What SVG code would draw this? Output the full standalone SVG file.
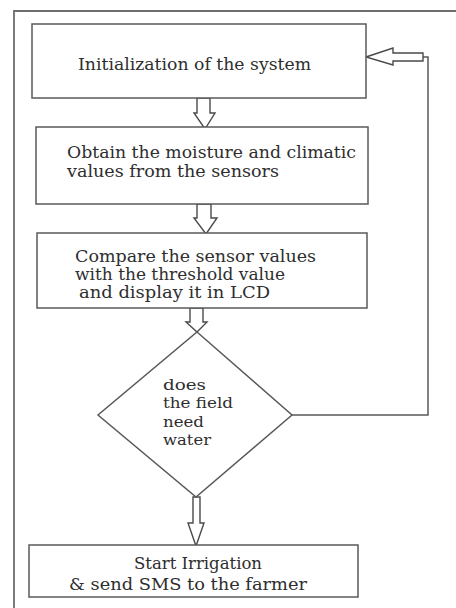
<svg xmlns="http://www.w3.org/2000/svg" width="456" height="608" viewBox="0 0 456 608">
<style>
.box{fill:#fff;stroke:#5a5a5a;stroke-width:1.5}
.frame{fill:none;stroke:#6e6e6e;stroke-width:1.8}
.arr{fill:#fff;stroke:#4a4a4a;stroke-width:1.4;stroke-linejoin:miter}
.ln{fill:none;stroke:#5a5a5a;stroke-width:1.5}
text{fill:#2e2e2e}
</style>
<rect width="456" height="608" fill="#fff"/>
<path class="frame" d="M14,608 V11 H456"/>
<g id="connectors">
<polygon class="arr" points="197,98 210,98 210,113 215,113 205,129 194,113 197,113"/>
<polygon class="arr" points="197,204 211,204 211,218 217,218 206,234 194,218 197,218"/>
<polygon class="arr" points="190,308 203,308 203,322 207,322 197,332 186,322 190,322"/>
<polygon class="arr" points="193,497 200,497 200,523 204,523 196,546 188,523 193,523"/>
<polyline class="ln" points="292,415 428,415 428,57 423,57"/>
<polygon class="arr" points="366,57 393,48 393,53 423,53 423,61 393,61 393,65"/>
</g>
<g font-family="DejaVu Serif, Liberation Serif, serif" font-size="17">
<g id="n1">
<rect class="box" x="32" y="24" width="334" height="74"/>
<text x="78" y="70" textLength="233" lengthAdjust="spacingAndGlyphs">Initialization of the system</text>
</g>
<g id="n2">
<rect class="box" x="36" y="127" width="332" height="77"/>
<text x="67" y="158" textLength="289" lengthAdjust="spacingAndGlyphs">Obtain the moisture and climatic</text>
<text x="67" y="177" textLength="212" lengthAdjust="spacingAndGlyphs">values from the sensors</text>
</g>
<g id="n3" font-size="16">
<rect class="box" x="37" y="233" width="330" height="75"/>
<text x="75" y="262" textLength="241" lengthAdjust="spacingAndGlyphs">Compare the sensor values</text>
<text x="75" y="280" textLength="210" lengthAdjust="spacingAndGlyphs">with the threshold value</text>
<text x="79" y="298" textLength="191" lengthAdjust="spacingAndGlyphs">and display it in LCD</text>
</g>
<g id="n4" font-size="15">
<polygon class="box" points="197,332 292,415 196,497 98,415"/>
<text x="163" y="390" textLength="43" lengthAdjust="spacingAndGlyphs">does</text>
<text x="163" y="408" textLength="70" lengthAdjust="spacingAndGlyphs">the field</text>
<text x="163" y="427" textLength="41" lengthAdjust="spacingAndGlyphs">need</text>
<text x="163" y="445" textLength="48" lengthAdjust="spacingAndGlyphs">water</text>
</g>
<g id="n5">
<rect class="box" x="29" y="545" width="329" height="52"/>
<text x="134" y="569" textLength="128" lengthAdjust="spacingAndGlyphs">Start Irrigation</text>
<text x="69" y="590" textLength="238" lengthAdjust="spacingAndGlyphs">&amp; send SMS to the farmer</text>
</g>
</g>
</svg>
